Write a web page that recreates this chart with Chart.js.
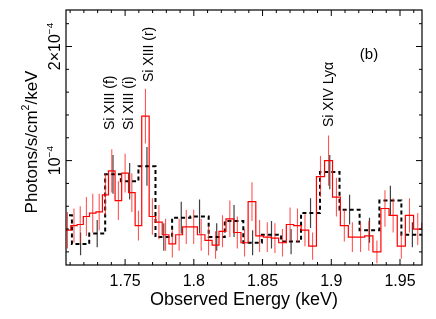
<!DOCTYPE html>
<html>
<head>
<meta charset="utf-8">
<script src="https://cdn.jsdelivr.net/npm/chart.js@4.4.1/dist/chart.umd.min.js"></script>
<style>
  html, body { margin: 0; padding: 0; background: #fff; }
  canvas { display: block; }
</style>
</head>
<body>
<canvas id="c" width="436" height="319"></canvas>
<script>
// values are in units of 1e-4 photons/s/cm^2/keV
const UNIT = 1e-4;

// second grating order (red, fine bins): bin edges in keV, flux, 1-sigma error
const redEdges = [1.7056, 1.7105, 1.7151, 1.7196, 1.7241, 1.7288, 1.7335, 1.7379, 1.7427, 1.7475,
  1.7525, 1.7573, 1.7621, 1.7675, 1.7722, 1.7770, 1.7819, 1.7868, 1.7918, 1.7972,
  1.8026, 1.8081, 1.8133, 1.8183, 1.8234, 1.8290, 1.8343, 1.8395, 1.8451, 1.8506,
  1.8563, 1.8617, 1.8673, 1.8727, 1.8781, 1.8836, 1.8892, 1.8951, 1.9009, 1.9066,
  1.9124, 1.9183, 1.9243, 1.9303, 1.9361, 1.9420, 1.9480, 1.9539, 1.9599, 1.9659, 1.9722];
const redVals = [0.39, 0.43, 0.44, 0.51, 0.54, 0.55, 0.70, 0.91, 0.65, 0.89,
  0.72, 0.43, 1.39, 0.51, 0.46, 0.35, 0.27, 0.35, 0.42, 0.42,
  0.35, 0.30, 0.26, 0.38, 0.49, 0.37, 0.28, 0.64, 0.34, 0.33,
  0.32, 0.28, 0.44, 0.43, 0.39, 0.25, 0.86, 1.00, 0.68, 0.43,
  0.33, 0.33, 0.34, 0.20, 0.58, 0.52, 0.25, 0.52, 0.40, 0.45];
const redErr = [0.16, 0.15, 0.16, 0.17, 0.17, 0.16, 0.18, 0.19, 0.17, 0.17,
  0.17, 0.13, 0.24, 0.16, 0.15, 0.14, 0.12, 0.14, 0.15, 0.15,
  0.14, 0.13, 0.12, 0.14, 0.16, 0.14, 0.12, 0.17, 0.14, 0.13,
  0.13, 0.12, 0.15, 0.15, 0.14, 0.12, 0.18, 0.22, 0.17, 0.14,
  0.13, 0.13, 0.13, 0.10, 0.16, 0.15, 0.11, 0.15, 0.14, 0.14];

// first order (black, coarse bins)
const blackEdges = [1.699, 1.7113, 1.7239, 1.7355, 1.7469, 1.7597, 1.7721, 1.7842, 1.7975, 1.8108,
  1.8225, 1.836, 1.8495, 1.8635, 1.878, 1.8918, 1.906, 1.9206, 1.935, 1.951, 1.967];
const blackVals = [0.52, 0.27, 0.36, 0.88, 0.82, 0.95, 0.33, 0.50, 0.51, 0.33,
  0.47, 0.28, 0.35, 0.29, 0.54, 0.90, 0.57, 0.39, 0.65, 0.35];
const blackErr = [0.13, 0.10, 0.12, 0.17, 0.16, 0.17, 0.12, 0.14, 0.15, 0.12,
  0.14, 0.11, 0.12, 0.11, 0.13, 0.15, 0.13, 0.11, 0.13, 0.11];

const lineNames = ['Si XIII (f)', 'Si XIII (i)', 'Si XIII (r)', 'Si XIV Lyα'];
const lineEnergies = [1.738, 1.7522, 1.7663, 1.8975];

const xMin = 1.707, xMax = 1.966;
const yMin = 0.085, yMax = 2.32;

const FONT = '"Liberation Sans", Arial, Helvetica, sans-serif';

function histogram(edges, vals) {
  const pts = vals.map((v, i) => ({ x: edges[i], y: v * UNIT }));
  pts.push({ x: edges[edges.length - 1], y: vals[vals.length - 1] * UNIT });
  return pts;
}

function errorBars(edges, vals, errs) {
  const pts = [];
  vals.forEach((v, i) => {
    const c = (edges[i] + edges[i + 1]) / 2;
    pts.push({ x: c, y: (v - errs[i]) * UNIT }, { x: c, y: (v + errs[i]) * UNIT }, { x: c, y: null });
  });
  return pts;
}

function rotText(ctx, x, y, parts, size, center) {
  ctx.save();
  ctx.translate(x, y);
  ctx.rotate(-Math.PI / 2);
  ctx.textAlign = 'left';
  ctx.textBaseline = 'alphabetic';
  let w = 0;
  parts.forEach(p => {
    ctx.font = (p[1] ? size * 0.62 : size) + 'px ' + FONT;
    w += ctx.measureText(p[0]).width;
  });
  let cx = center ? -w / 2 : 0;
  parts.forEach(p => {
    ctx.font = (p[1] ? size * 0.62 : size) + 'px ' + FONT;
    ctx.fillText(p[0], cx, p[1] ? -size * 0.45 : 0);
    cx += ctx.measureText(p[0]).width;
  });
  ctx.restore();
}

const near = (a, b) => Math.abs(a - b) < 1e-6;

const framePlugin = {
  id: 'frame',
  afterDraw(chart) {
    const { ctx, chartArea: a, scales: { x, y } } = chart;
    ctx.save();
    ctx.strokeStyle = '#000';
    ctx.fillStyle = '#000';
    ctx.lineWidth = 1.2;
    ctx.strokeRect(a.left, a.top, a.right - a.left, a.bottom - a.top);

    ctx.lineWidth = 1;
    ctx.beginPath();
    x.ticks.forEach(t => {
      const px = x.getPixelForValue(t.value);
      const major = near(t.value * 20, Math.round(t.value * 20));
      const len = major ? 6 : 3;
      ctx.moveTo(px, a.bottom); ctx.lineTo(px, a.bottom - len);
      ctx.moveTo(px, a.top); ctx.lineTo(px, a.top + len);
    });
    y.ticks.forEach(t => {
      const py = y.getPixelForValue(t.value);
      const v = t.value / UNIT;
      const major = near(v, Math.round(v));
      const len = major ? 6 : 3;
      ctx.moveTo(a.left, py); ctx.lineTo(a.left + len, py);
      ctx.moveTo(a.right, py); ctx.lineTo(a.right - len, py);
    });
    ctx.stroke();

    // x tick labels
    ctx.font = '16px ' + FONT;
    ctx.textAlign = 'center';
    ctx.textBaseline = 'alphabetic';
    x.ticks.forEach(t => {
      if (near(t.value * 20, Math.round(t.value * 20))) {
        ctx.fillText(String(+t.value.toFixed(2)), x.getPixelForValue(t.value), 285.5);
      }
    });

    // y tick labels
    y.ticks.forEach(t => {
      const v = t.value / UNIT;
      if (near(v, Math.round(v))) {
        const n = Math.round(v);
        const main = n === 1 ? '10' : n + '×10';
        rotText(ctx, 60, y.getPixelForValue(t.value), [[main, false], ['−4', true]], 16, true);
      }
    });

    // axis titles
    ctx.font = '18px ' + FONT;
    ctx.textAlign = 'center';
    ctx.fillText('Observed Energy (keV)', (a.left + a.right) / 2, 304.5);
    rotText(ctx, 37, 142, [['Photons/s/cm', false], ['2', true], ['/keV', false]], 17, true);

    // line identifications
    const starts = [130, 130, 82, 127];
    lineNames.forEach((name, i) => {
      rotText(ctx, x.getPixelForValue(lineEnergies[i]) + 5, starts[i], [[name, false]], 14, false);
    });

    ctx.font = '15px ' + FONT;
    ctx.textAlign = 'center';
    ctx.textBaseline = 'middle';
    ctx.fillText('(b)', 369, 55);
    ctx.restore();
  }
};

new Chart(document.getElementById('c'), {
  type: 'line',
  data: {
    datasets: [
      {
        data: histogram(redEdges, redVals),
        stepped: true, borderColor: '#ff0000', borderWidth: 1.2,
        pointRadius: 0, fill: false, order: 1, clip: 0
      },
      {
        data: errorBars(redEdges, redVals, redErr),
        borderColor: 'rgba(255,30,30,0.75)', borderWidth: 1.1,
        pointRadius: 0, fill: false, spanGaps: false, order: 2, clip: 0
      },
      {
        data: histogram(blackEdges, blackVals),
        stepped: true, borderColor: '#000', borderWidth: 2, borderDash: [4, 3],
        pointRadius: 0, fill: false, order: 3, clip: 0
      },
      {
        data: errorBars(blackEdges, blackVals, blackErr),
        borderColor: 'rgba(0,0,0,0.75)', borderWidth: 1.2,
        pointRadius: 0, fill: false, spanGaps: false, order: 4, clip: 0
      }
    ]
  },
  options: {
    responsive: false,
    animation: false,
    layout: { padding: { top: 10, right: 14, left: 0, bottom: 0 } },
    plugins: { legend: { display: false }, tooltip: { enabled: false } },
    scales: {
      x: {
        type: 'linear', min: xMin, max: xMax,
        grid: { display: false }, border: { display: false },
        ticks: { display: false, stepSize: 0.01, autoSkip: false, includeBounds: false },
        afterFit: s => { s.height = 54; }
      },
      y: {
        type: 'linear', min: yMin * UNIT, max: yMax * UNIT,
        grid: { display: false }, border: { display: false },
        ticks: { display: false, stepSize: 0.2 * UNIT, autoSkip: false, includeBounds: false },
        afterFit: s => { s.width = 66; }
      }
    }
  },
  plugins: [framePlugin]
});
</script>
</body>
</html>
